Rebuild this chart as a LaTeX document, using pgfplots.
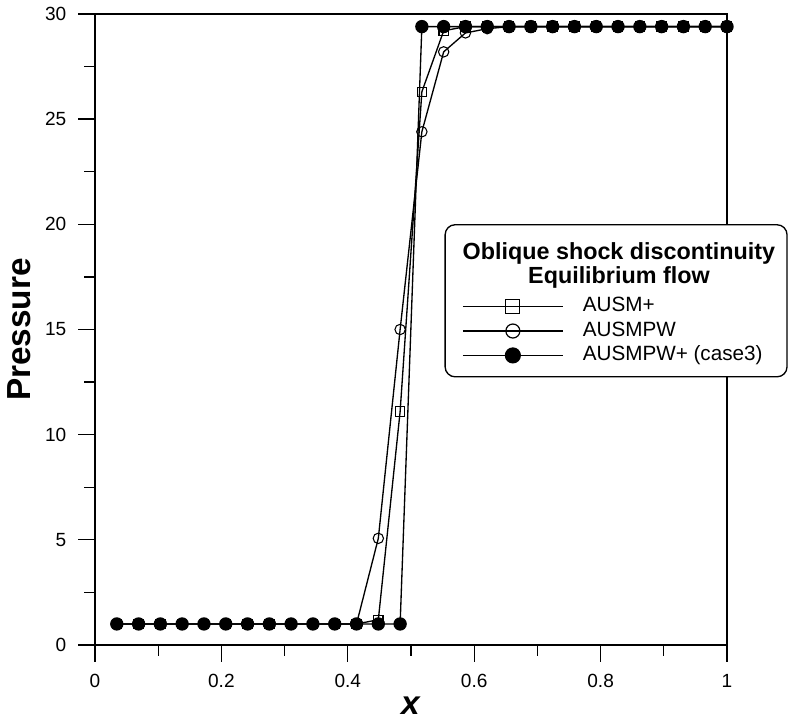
\documentclass[border=0pt]{standalone}
\usepackage{pgfplots}
\pgfplotsset{compat=1.18}
\usepackage{fontspec}
\setmainfont{Liberation Sans}
\begin{document}
\begin{tikzpicture}
\begin{axis}[
  scale only axis,
  width=474pt, height=473.25pt,
  xmin=0, xmax=1, ymin=0, ymax=30,
  xtick={0,0.2,0.4,0.6,0.8,1},
  xticklabels={0,0.2,0.4,0.6,0.8,1},
  ytick={0,5,10,15,20,25,30},
  minor x tick num=1, minor y tick num=1,
  xtick pos=bottom, ytick pos=left,
  tick align=outside,
  major tick length=12.5pt, minor tick length=8pt,
  every tick/.style={black, line width=1pt},
  axis line style={line width=1.2pt},
  /pgf/number format/assume math mode=true,
  ticklabel style={font=\fontsize{14.3}{16}\selectfont},
  xticklabel style={yshift=-6pt},
  yticklabel style={xshift=-5.5pt},
  xlabel={\textbf{\textit{x}}},
  ylabel={\textbf{Pressure}},
  xlabel style={font=\fontsize{25}{28}\selectfont, at={(axis description cs:0.5,0)}, anchor=center, yshift=-45.75pt, inner sep=0pt},
  ylabel style={font=\fontsize{25}{28}\selectfont, at={(axis description cs:0,0.5)}, anchor=center, yshift=56.6pt, inner sep=0pt},
  clip=false,
  legend style={draw=none, fill=none, at={(rel axis cs:0.5807,0.556)}, anchor=north west,
    inner sep=0pt, row sep=0pt, column sep=14.5pt,
    font=\fontsize{15.5}{17}\selectfont,
    nodes={inner sep=0pt, text height=12.9pt, text depth=5.4pt}},
  legend cell align=left,
  legend image code/.code={\draw[mark repeat=2,mark phase=2] plot coordinates {(0pt,0pt) (37.5pt,0pt) (75pt,0pt)};},
]
\addplot[black, line width=1pt, mark=square, mark size=3.5pt, mark options={solid, fill=white, line width=0.8pt}, forget plot] coordinates {
(0.0345,1) (0.0690,1) (0.1034,1) (0.1379,1) (0.1724,1) (0.2069,1) (0.2414,1) (0.2759,1) (0.3103,1) (0.3448,1) (0.3793,1) (0.4138,1)
(0.4483,1.2) (0.4828,11.1) (0.5172,26.3) (0.5517,29.2) (0.5862,29.4) (0.6207,29.4) (0.6552,29.4) (0.6897,29.4) (0.7241,29.4) (0.7586,29.4)
(0.7931,29.4) (0.8276,29.4) (0.8621,29.4) (0.8966,29.4) (0.9310,29.4) (0.9655,29.4) (1.0000,29.4)
};
\addplot[black, line width=1pt, mark=o, mark size=3.9pt, mark options={solid, fill=white, line width=0.8pt}, forget plot] coordinates {
(0.0345,1) (0.0690,1) (0.1034,1) (0.1379,1) (0.1724,1) (0.2069,1) (0.2414,1) (0.2759,1) (0.3103,1) (0.3448,1) (0.3793,1) (0.4138,1)
(0.4483,5.07) (0.4828,15.0) (0.5172,24.4) (0.5517,28.2) (0.5862,29.1) (0.6207,29.3) (0.6552,29.4) (0.6897,29.4) (0.7241,29.4) (0.7586,29.4)
(0.7931,29.4) (0.8276,29.4) (0.8621,29.4) (0.8966,29.4) (0.9310,29.4) (0.9655,29.4) (1.0000,29.4)
};
\addplot[black, line width=1pt, mark=*, mark size=4.5pt, mark options={solid, fill=black}, forget plot] coordinates {
(0.0345,1) (0.0690,1) (0.1034,1) (0.1379,1) (0.1724,1) (0.2069,1) (0.2414,1) (0.2759,1) (0.3103,1) (0.3448,1) (0.3793,1) (0.4138,1)
(0.4483,1) (0.4828,1) (0.5172,29.4) (0.5517,29.4) (0.5862,29.4) (0.6207,29.4) (0.6552,29.4) (0.6897,29.4) (0.7241,29.4) (0.7586,29.4)
(0.7931,29.4) (0.8276,29.4) (0.8621,29.4) (0.8966,29.4) (0.9310,29.4) (0.9655,29.4) (1.0000,29.4)
};
\addlegendimage{black, line width=0.9pt, mark=square, mark size=5.25pt, mark options={fill=white}}
\addlegendentry{AUSM+}
\addlegendimage{black, line width=0.9pt, mark=o, mark size=5.25pt, mark options={fill=white}}
\addlegendentry{AUSMPW}
\addlegendimage{black, line width=0.9pt, mark=*, mark size=5.6pt, mark options={fill=black}}
\addlegendentry{AUSMPW+ (case3)}
\draw[line width=1pt, fill=white, rounded corners=7.5pt] (rel axis cs:0.554,0.425) rectangle (rel axis cs:1.095,0.666);
\node[font=\fontsize{17.5}{20}\selectfont\bfseries, anchor=center] at (rel axis cs:0.829,0.621) {Oblique shock discontinuity};
\node[font=\fontsize{17.5}{20}\selectfont\bfseries, anchor=center] at (rel axis cs:0.829,0.583) {Equilibrium flow};
\end{axis}
\path (current axis.south west) ++(-71.25pt,-58.5pt) coordinate (bl);
\path (current axis.north east) ++(49.5pt,10.5pt) coordinate (tr);
\pgfresetboundingbox
\path[use as bounding box] (bl) rectangle (tr);
\end{tikzpicture}
\end{document}
